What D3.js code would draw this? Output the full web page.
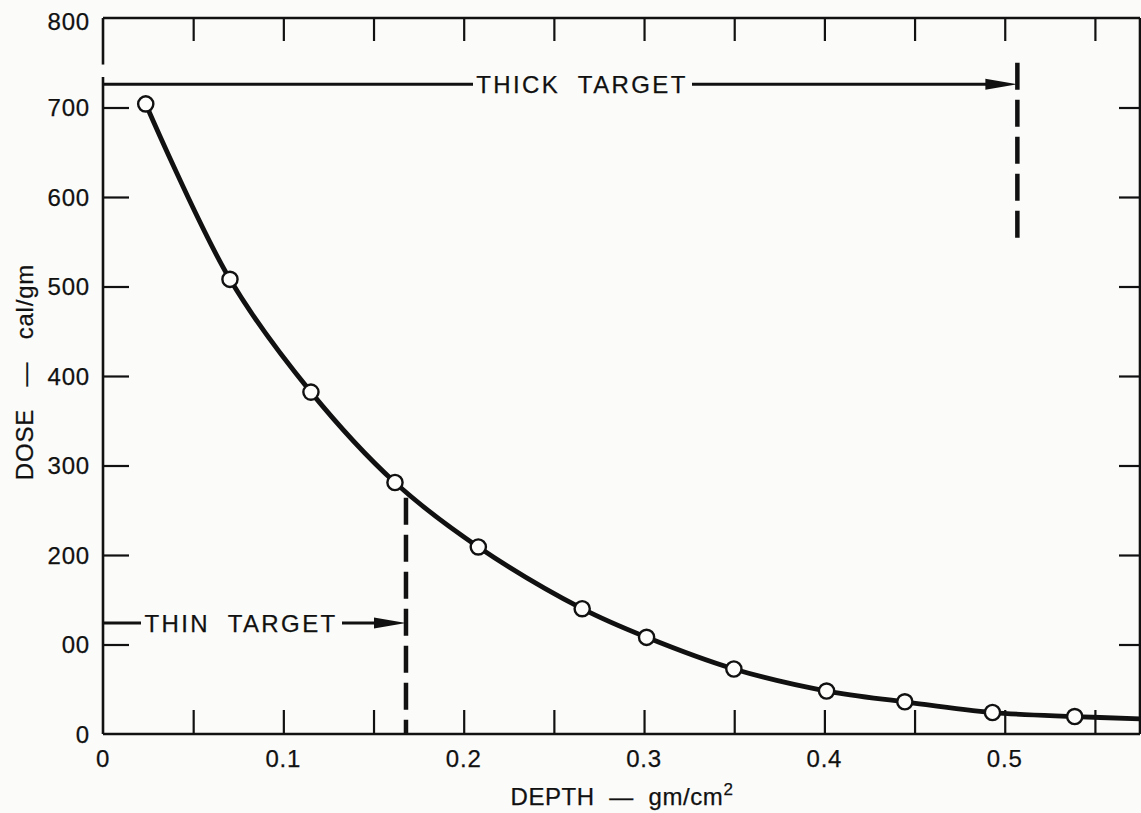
<!DOCTYPE html>
<html>
<head>
<meta charset="utf-8">
<script src="https://cdn.jsdelivr.net/npm/d3@7"></script>
<style>
  html, body { margin: 0; padding: 0; background: #fbfbf9; }
  svg { display: block; }
  text { font-family: "Liberation Sans", Arial, Helvetica, sans-serif; fill: #111; stroke: #111; stroke-width: 0.25px; }
</style>
</head>
<body>
<svg id="chart" width="1141" height="813"></svg>
<script>
// ---- data ----
const depth = [0.0237, 0.0704, 0.1153, 0.1619, 0.2081, 0.2657, 0.3014, 0.3498, 0.4012, 0.4446, 0.4932, 0.5388];
const dose  = [704, 508, 382, 281, 209, 140, 108, 72.6, 48, 36, 24, 19.5];
const tailDepth = [0.575];
const tailDose  = [17];

const xMajorTicks = [0, 0.1, 0.2, 0.3, 0.4, 0.5];
const xMinorTicks = [0.05, 0.15, 0.25, 0.35, 0.45, 0.55];
const xTickLabels = ["0", "0.1", "0.2", "0.3", "0.4", "0.5"];
const yTicks = [0, 100, 200, 300, 400, 500, 600, 700, 800];
const yTickLabels = ["0", "00", "200", "300", "400", "500", "600", "700", "800"];

// annotations: boundary depth, arrow dose level, dashed top / bottom dose
const thickTarget = { label: "THICK TARGET", depth: 0.507, level: 726, top: 750, bottom: 552 };
const thinTarget  = { label: "THIN TARGET",  depth: 0.168, level: 124, top: 264, bottom: 0 };

// ---- drawing ----
const svg = d3.select("#chart");
const x = d3.scaleLinear().domain([0, 0.575]).range([103, 1140]);
const y = d3.scaleLinear().domain([0, 800]).range([734, 18]);
const ink = "#111";

// frame
const frame = svg.append("g").attr("stroke", ink).attr("stroke-width", 2.6).attr("fill", "none");
frame.append("line").attr("x1", x(0)).attr("x2", x(0.575)).attr("y1", y(800)).attr("y2", y(800));
frame.append("line").attr("x1", x(0)).attr("x2", x(0.575)).attr("y1", y(0)).attr("y2", y(0));
frame.append("line").attr("x1", x(0.575)).attr("x2", x(0.575)).attr("y1", y(800)).attr("y2", y(0));
frame.append("line").attr("x1", x(0)).attr("x2", x(0)).attr("y1", y(800)).attr("y2", y(748));
frame.append("line").attr("x1", x(0)).attr("x2", x(0)).attr("y1", y(734)).attr("y2", y(0));

const fontSize = 24;

// bottom axis
const allX = xMajorTicks.concat(xMinorTicks).sort((a, b) => a - b).filter(d => d > 0);
const axB = svg.append("g").attr("transform", `translate(0,${y(0)})`)
  .call(d3.axisBottom(x).tickValues(allX).tickSize(-24).tickSizeOuter(0).tickFormat(""));
axB.select(".domain").remove();
axB.selectAll(".tick line").attr("stroke", ink).attr("stroke-width", 2.2);

svg.append("g").selectAll("text").data(xMajorTicks).join("text")
  .attr("x", d => x(d)).attr("y", y(0) + 33)
  .attr("text-anchor", "middle").attr("font-size", fontSize).attr("letter-spacing", 0.8)
  .text((d, i) => xTickLabels[i]);

// top axis
const axT = svg.append("g").attr("transform", `translate(0,${y(800)})`)
  .call(d3.axisTop(x).tickValues(allX).tickSize(-23).tickSizeOuter(0).tickFormat(""));
axT.select(".domain").remove();
axT.selectAll(".tick line").attr("stroke", ink).attr("stroke-width", 2.2);

// left axis
const axL = svg.append("g").attr("transform", `translate(${x(0)},0)`)
  .call(d3.axisLeft(y).tickValues(yTicks.filter(d => d > 0 && d < 800)).tickSize(-26).tickSizeOuter(0).tickFormat(""));
axL.select(".domain").remove();
axL.selectAll(".tick line").attr("stroke", ink).attr("stroke-width", 2.2);

svg.append("g").selectAll("text").data(yTicks).join("text")
  .attr("x", x(0) - 13).attr("y", d => y(d)).attr("dy", d => d === 800 ? "0.5em" : "0.36em")
  .attr("text-anchor", "end").attr("font-size", fontSize).attr("letter-spacing", 0.8)
  .text((d, i) => yTickLabels[i]);

// right axis
const axR = svg.append("g").attr("transform", `translate(${x(0.575)},0)`)
  .call(d3.axisRight(y).tickValues(yTicks.filter(d => d > 0 && d < 800)).tickSize(-21).tickSizeOuter(0).tickFormat(""));
axR.select(".domain").remove();
axR.selectAll(".tick line").attr("stroke", ink).attr("stroke-width", 2.2);

// axis titles
svg.append("text")
  .attr("x", 622).attr("y", 805).attr("text-anchor", "middle").attr("font-size", fontSize)
  .attr("letter-spacing", 0.6)
  .style("white-space", "pre")
  .html('DEPTH  —  gm/cm<tspan dy="-10" font-size="17">2</tspan>');

svg.append("text")
  .attr("transform", "translate(33,372) rotate(-90)")
  .attr("text-anchor", "middle").attr("font-size", fontSize).attr("letter-spacing", 0.8)
  .style("white-space", "pre")
  .text("DOSE   —   cal/gm");

// curve
const pts = depth.map((d, i) => [d, dose[i]]).concat(tailDepth.map((d, i) => [d, tailDose[i]]));
const line = d3.line().x(d => x(d[0])).y(d => y(d[1])).curve(d3.curveCatmullRom.alpha(0.5));
svg.append("path").datum(pts).attr("d", line)
  .attr("fill", "none").attr("stroke", ink).attr("stroke-width", 4.8).attr("stroke-linejoin", "round");

svg.append("g").selectAll("circle").data(depth).join("circle")
  .attr("cx", d => x(d)).attr("cy", (d, i) => y(dose[i])).attr("r", 7.6)
  .attr("fill", "#fdfdfc").attr("stroke", ink).attr("stroke-width", 2.4);

// target annotations
function annotate(t, textStart, textEnd) {
  const g = svg.append("g");
  const ly = y(t.level), bx = x(t.depth);
  g.append("line").attr("x1", bx).attr("x2", bx).attr("y1", y(t.top)).attr("y2", y(t.bottom))
    .attr("stroke", ink).attr("stroke-width", 4.5).attr("stroke-dasharray", "27 10");
  g.append("line").attr("x1", x(0)).attr("x2", textStart - 7).attr("y1", ly).attr("y2", ly)
    .attr("stroke", ink).attr("stroke-width", 3.2);
  g.append("line").attr("x1", textEnd + 8).attr("x2", bx - 20).attr("y1", ly).attr("y2", ly)
    .attr("stroke", ink).attr("stroke-width", 3.2);
  g.append("path").attr("d", `M${bx - 32},${ly - 5.5} L${bx},${ly} L${bx - 32},${ly + 5.5} Z`)
    .attr("fill", ink);
  g.append("text").attr("x", (textStart + textEnd) / 2).attr("y", ly).attr("dy", "0.36em")
    .attr("text-anchor", "middle").attr("font-size", fontSize).attr("letter-spacing", 2.4)
    .style("white-space", "pre")
    .text(t.label.replace(" ", "  "));
}
annotate(thickTarget, 480, 684);
annotate(thinTarget, 148, 334);
</script>
</body>
</html>
